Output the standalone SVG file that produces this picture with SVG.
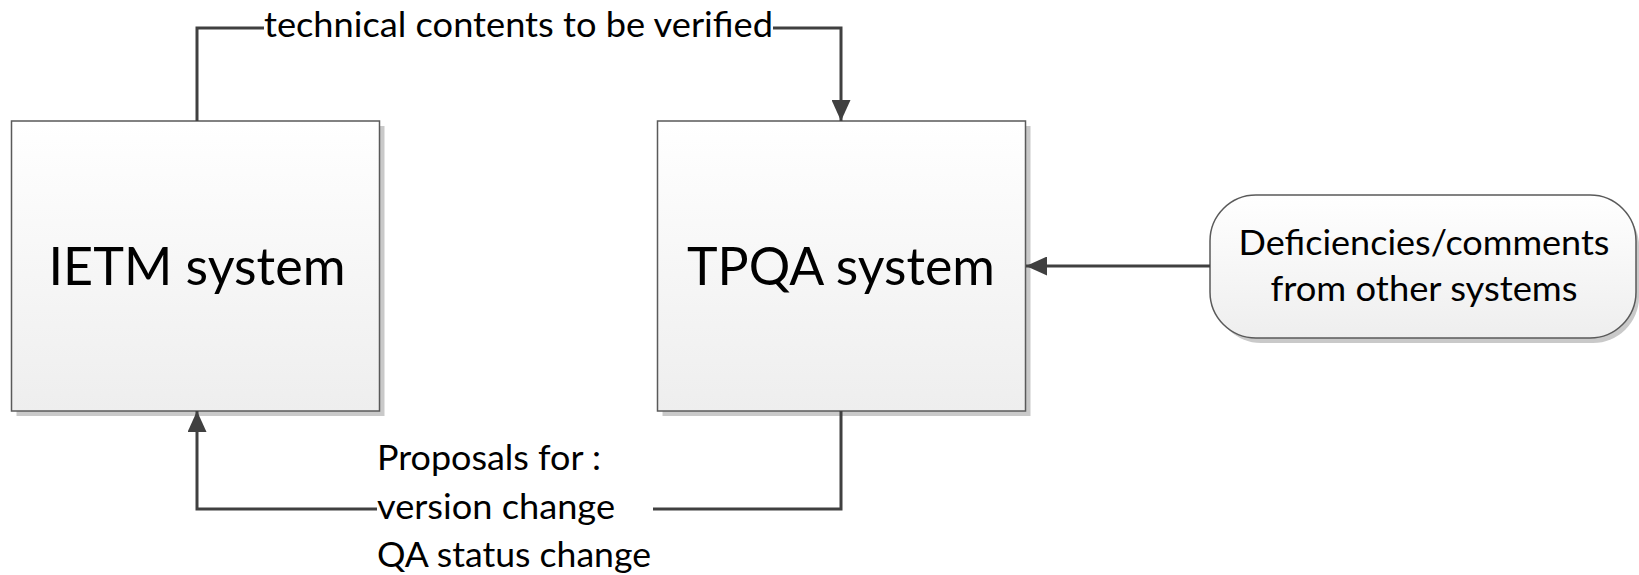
<svg xmlns="http://www.w3.org/2000/svg" width="1639" height="575" viewBox="0 0 1639 575">
  <style>
    .box { fill: url(#boxFill); stroke: #5a5a5a; stroke-width: 1.5; }
    .shadow { fill: #c9c9c9; }
    .big { font-family: Lato, "Liberation Sans", sans-serif; font-size: 53px; fill: #000; }
    .lbl { font-family: Lato, "Liberation Sans", sans-serif; font-size: 35px; fill: #000; }
    .wire { fill: none; stroke: #404040; stroke-width: 3; }
  </style>
  <defs>
    <linearGradient id="boxFill" x1="0" y1="0" x2="0" y2="1">
      <stop offset="0" stop-color="#ffffff"/>
      <stop offset="1" stop-color="#eeeeee"/>
    </linearGradient>
    <marker id="arrow" viewBox="0 0 21 19" refX="21" refY="9.5" markerWidth="21" markerHeight="19" markerUnits="userSpaceOnUse" orient="auto">
      <path d="M0,0 L21,9.5 L0,19 Z" fill="#404040"/>
    </marker>
  </defs>

  <!-- IETM node -->
  <g id="ietm">
    <rect class="shadow" x="16.5" y="126" width="368" height="290"/>
    <rect class="box" x="11.5" y="121" width="368" height="290"/>
    <text class="big" x="197" y="285" text-anchor="middle" textLength="297" lengthAdjust="spacingAndGlyphs">IETM system</text>
  </g>

  <!-- TPQA node -->
  <g id="tpqa">
    <rect class="shadow" x="662.5" y="126" width="368" height="290"/>
    <rect class="box" x="657.5" y="121" width="368" height="290"/>
    <text class="big" x="841" y="285" text-anchor="middle" textLength="308" lengthAdjust="spacingAndGlyphs">TPQA system</text>
  </g>

  <!-- external source node -->
  <g id="deficiencies">
    <rect class="shadow" x="1215" y="200" width="424" height="143" rx="46" ry="46"/>
    <rect class="box" x="1210" y="195" width="426" height="143" rx="46" ry="46"/>
    <text class="lbl" x="1424" y="255" text-anchor="middle" textLength="371" lengthAdjust="spacingAndGlyphs">Deficiencies/comments</text>
    <text class="lbl" x="1424" y="301" text-anchor="middle" textLength="307" lengthAdjust="spacingAndGlyphs">from other systems</text>
  </g>

  <!-- connectors -->
  <g id="connectors">
    <!-- IETM to TPQA over the top -->
    <polyline class="wire" points="197,121 197,28 264,28"/>
    <polyline class="wire" points="773,28 841,28 841,121" marker-end="url(#arrow)"/>
    <text class="lbl" x="264" y="37" textLength="509" lengthAdjust="spacingAndGlyphs">technical contents to be verified</text>

    <!-- TPQA back to IETM underneath -->
    <polyline class="wire" points="841,411 841,509 653,509"/>
    <polyline class="wire" points="377,509 197,509 197,411" marker-end="url(#arrow)"/>
    <text class="lbl" x="377" y="470" textLength="224" lengthAdjust="spacingAndGlyphs">Proposals for :</text>
    <text class="lbl" x="377" y="519" textLength="238" lengthAdjust="spacingAndGlyphs">version change</text>
    <text class="lbl" x="377" y="567" textLength="274" lengthAdjust="spacingAndGlyphs">QA status change</text>

    <!-- external input into TPQA -->
    <line class="wire" x1="1210" y1="266" x2="1026" y2="266" marker-end="url(#arrow)"/>
  </g>
</svg>
